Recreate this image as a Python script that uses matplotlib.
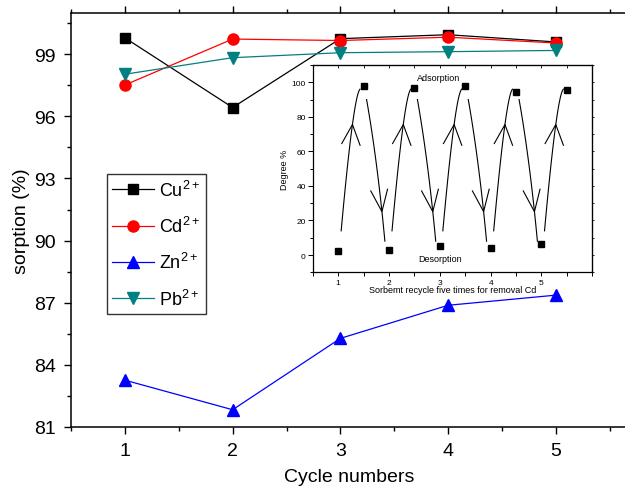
import numpy as np
import matplotlib
matplotlib.use('Agg')
import matplotlib.pyplot as plt
from matplotlib.ticker import MultipleLocator

plt.rcParams['font.family'] = ['Liberation Sans', 'DejaVu Sans']
plt.rcParams['mathtext.default'] = 'regular'

# main chart data
cycles = [1, 2, 3, 4, 5]
cu = [99.80, 96.43, 99.76, 99.95, 99.60]
cd = [97.52, 99.74, 99.67, 99.83, 99.55]
zn = [83.25, 81.82, 85.27, 86.87, 87.36]
pb = [98.04, 98.84, 99.08, 99.13, 99.19]

# inset data (adsorption / desorption degree)
inset_x = [1, 1.5, 2, 2.5, 3, 3.5, 4, 4.5, 5, 5.5]
inset_y = [2.1, 98.0, 3.1, 96.5, 5.0, 98.0, 4.0, 94.4, 6.2, 95.6]

fig = plt.figure(figsize=(6.25, 4.89), dpi=100)

# main axes (right edge runs off the picture, like the reference)
ax = fig.add_axes([71 / 625, 1 - 427.7 / 489, 556 / 625, (427.7 - 14) / 489])

ax.plot(cycles, cu, '-s', color='black', lw=0.9, ms=7.5, label='Cu$^{2+}$')
ax.plot(cycles, cd, '-o', color='#ff0000', lw=0.9, ms=8, label='Cd$^{2+}$')
ax.plot(cycles, zn, '-^', color='#0000ff', lw=0.9, ms=8.5, label='Zn$^{2+}$')
ax.plot(cycles, pb, '-v', color='#008080', lw=0.9, ms=8.5, label='Pb$^{2+}$')

ax.set_xlim(0.5, 5.66)
ax.set_ylim(81, 101)
ax.xaxis.set_major_locator(MultipleLocator(1))
ax.xaxis.set_minor_locator(MultipleLocator(0.5))
ax.yaxis.set_major_locator(MultipleLocator(3))
ax.yaxis.set_minor_locator(MultipleLocator(1.5))
ax.tick_params(which='both', direction='out', top=True, right=False, width=1,
               labelsize=14, pad=6)
ax.tick_params(which='major', length=5)
ax.tick_params(which='minor', length=3)
for s in ['left', 'bottom', 'top']:
    ax.spines[s].set_linewidth(1.1)
ax.spines['right'].set_visible(False)
ax.set_xlabel('Cycle numbers', fontsize=14, labelpad=6.5)
ax.set_ylabel('sorption (%)', fontsize=14, labelpad=3)

leg = ax.legend(loc='upper left', bbox_to_anchor=(106.7 / 625, 1 - 175 / 489),
                bbox_transform=fig.transFigure, fontsize=13, frameon=True,
                fancybox=False, framealpha=1, edgecolor='#333333',
                handlelength=2.3, handletextpad=0.3, labelspacing=0.9,
                borderpad=0.3, borderaxespad=0)
leg.get_frame().set_linewidth(1.0)

# inset axes
ins = fig.add_axes([312.7 / 625, 1 - 273.3 / 489, (592.3 - 312.7) / 625,
                    (273.3 - 66) / 489])
ins.set_facecolor('white')
ins.plot(inset_x, inset_y, 's', color='black', ms=4.5)


def bezier(p0, p1, p2, n=60):
    t = np.linspace(0, 1, n)[:, None]
    return (1 - t) ** 2 * np.array(p0) + 2 * (1 - t) * t * np.array(p1) + t ** 2 * np.array(p2)


def curved_arrow(p0, p1, p2, head_y, arm_a, arm_b):
    pts = bezier(p0, p1, p2)
    ins.plot(pts[:, 0], pts[:, 1], color='black', lw=0.8)
    k = np.argmin(np.abs(pts[:, 1] - head_y))
    hx, hy = pts[k]
    ins.plot([hx + arm_a[0], hx, hx + arm_b[0]],
             [hy + arm_a[1], hy, hy + arm_b[1]], color='black', lw=0.8)


for i in range(len(inset_x) - 1):
    x0 = inset_x[i]
    if i % 2 == 0:
        # desorbed -> adsorbed
        curved_arrow((x0 + 0.06, 14), (x0 + 0.30, 92), (x0 + 0.43, 96),
                     75, (-0.21, -11), (0.15, -12))
    else:
        # adsorbed -> desorbed
        curved_arrow((x0 + 0.06, 90), (x0 + 0.27, 55), (x0 + 0.42, 8),
                     25, (-0.22, 12), (0.11, 13))

ins.text(2.97, 102.5, 'Adsorption', ha='center', va='center', fontsize=6.5)
ins.text(3.0, -2.3, 'Desorption', ha='center', va='center', fontsize=6.5)

ins.set_xlim(0.5, 6.0)
ins.set_ylim(-10, 110)
ins.xaxis.set_minor_locator(MultipleLocator(0.5))
ins.yaxis.set_major_locator(MultipleLocator(20))
ins.yaxis.set_minor_locator(MultipleLocator(10))
ins.set_xticks([1, 2, 3, 4, 5])
ins.tick_params(which='both', labelsize=6, width=0.7, pad=1.5)
ins.tick_params(axis='x', which='both', direction='out', length=3, top=False)
ins.tick_params(axis='y', which='major', direction='out', length=3.5)
ins.tick_params(axis='y', which='minor', direction='out', length=2)
for s in ins.spines.values():
    s.set_linewidth(0.9)
ins.set_xlabel('Sorbemt recycle five times for removal Cd', fontsize=6.5, labelpad=-0.5)
ins.set_ylabel('Degree %', fontsize=6.5, labelpad=2)

# extra ticks: top inward, right outward
sec_top = ins.secondary_xaxis('top')
sec_top.xaxis.set_major_locator(MultipleLocator(0.5))
sec_top.tick_params(direction='in', length=2, width=0.6, labeltop=False)
sec_right = ins.secondary_yaxis('right')
sec_right.yaxis.set_major_locator(MultipleLocator(10))
sec_right.tick_params(direction='out', length=1.5, width=0.6, labelright=False)

fig.savefig('out.png', dpi=100)
